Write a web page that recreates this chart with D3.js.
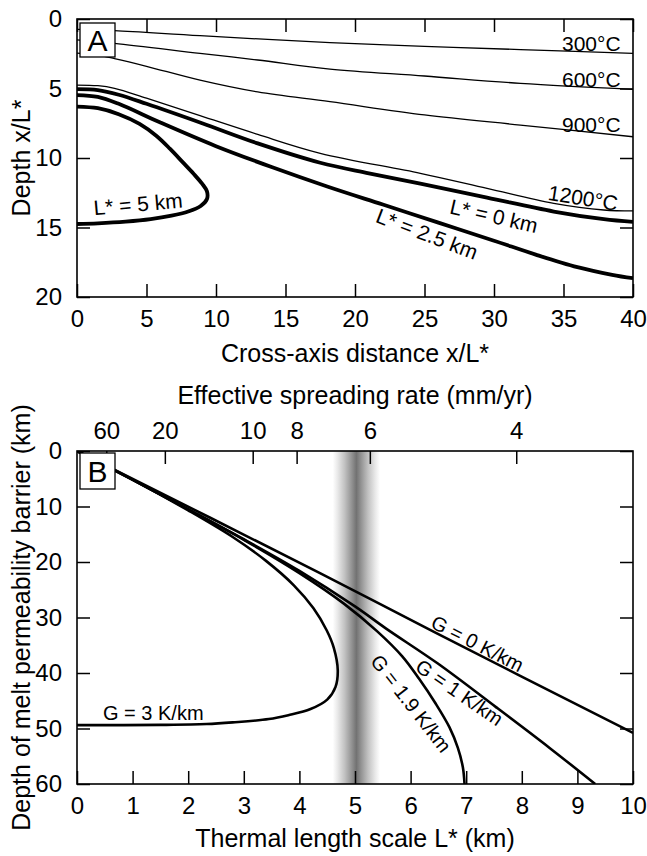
<!DOCTYPE html>
<html>
<head>
<meta charset="utf-8">
<script src="https://cdn.jsdelivr.net/npm/d3@7"></script>
<style>
body { margin: 0; background: #fff; }
svg text { font-family: "Liberation Sans", Arial, Helvetica, sans-serif; fill: #000; }
</style>
</head>
<body>
<svg id="chart" width="647" height="856"></svg>
<script>
// Panel A: [cross-axis distance x/L*, depth x/L*]
var iso300 = [[0, 0.75], [2.7, 0.84], [8.85, 1.2], [18.2, 1.7], [25, 1.97], [31.9, 2.2], [40, 2.47]];
var iso600 = [[0, 1.5], [2.7, 1.75], [8.85, 2.47], [13, 2.95], [18.2, 3.6], [25, 4.1], [31.9, 4.63], [40, 5.06]];
var iso900 = [[0, 2.45], [1.5, 2.6], [2.7, 2.85], [5, 3.4], [8.85, 4.4], [13, 5.25], [18.2, 5.95], [25, 6.9], [31.9, 7.63], [40, 8.47]];
var iso1200 = [[0, 4.75], [1.5, 4.8], [2.7, 4.99], [5, 5.7], [8.85, 6.95], [13, 8.3], [17.5, 9.66], [24.7, 11.1], [29.5, 12.18], [34.3, 13.26], [37.9, 13.74], [40, 13.81]];
var lstar0 = [[0, 5.05], [1.5, 5.12], [3, 5.45], [5, 6.1], [9, 7.5], [13, 8.95], [17.5, 10.34], [21, 11.1], [24.7, 11.85], [29.5, 12.85], [34.3, 13.85], [37.9, 14.4], [40, 14.6]];
var lstar25 = [[0, 5.47], [1.5, 5.6], [3, 6.1], [6, 7.45], [10, 9.15], [14, 10.65], [18, 12.05], [22, 13.35], [26, 14.65], [30, 15.95], [33, 16.95], [36, 17.85], [38.5, 18.4], [40, 18.65]];
var lstar5 = [[0, 6.3], [1.5, 6.42], [3, 6.85], [4.5, 7.55], [5.7, 8.4], [6.7, 9.35], [7.6, 10.3], [8.4, 11.15], [9.0, 11.85], [9.35, 12.4], [9.35, 12.95], [8.9, 13.45], [8.0, 13.85], [6.8, 14.15], [5.3, 14.4], [3.5, 14.58], [1.5, 14.7], [0, 14.75]];

// Panel B: [thermal length scale L* (km), depth of barrier (km)]
var g0 = [[0, 0], [4.37, 22.0], [6.42, 32.6], [10, 50.8]];
var g1 = [[0, 0], [1, 5.2], [2, 10.5], [3, 15.9], [4, 21.6], [5, 28.0], [5.56, 32.0], [6.49, 38.3], [7.53, 46.1], [8.5, 53.5], [9.32, 60]];
var g19 = [[0, 0], [1, 5.15], [2, 10.5], [3, 16.0], [4, 22.0], [4.8, 27.5], [5.4, 32.5], [5.85, 37.0], [6.15, 41.0], [6.45, 45.5], [6.7, 49.8], [6.85, 53.5], [6.94, 57], [6.97, 60]];
var g3 = [[0, 0], [1, 5.15], [2, 10.7], [2.8, 15.5], [3.4, 19.8], [3.9, 24.2], [4.25, 28.3], [4.49, 32.3], [4.62, 35.5], [4.69, 39.5], [4.65, 42.5], [4.5, 44.8], [4.2, 46.5], [3.8, 47.6], [3.45, 48.3], [2.8, 48.9], [2.33, 49.2], [1.5, 49.35], [0, 49.4]];

var spreadRates = [60, 20, 10, 8, 6, 4];     // top axis labels (mm/yr)
var rateToLstar = 31.6;
var bandRange = [4.6, 5.45];                   // shaded L* band

var svg = d3.select('#chart');

var xA = d3.scaleLinear().domain([0, 40]).range([77, 633]);
var yA = d3.scaleLinear().domain([0, 20]).range([19, 297]);
var xB = d3.scaleLinear().domain([0, 10]).range([77, 633]);
var yB = d3.scaleLinear().domain([0, 60]).range([451, 784]);

function styleAxis(g) {
    g.attr('font-size', 24).attr('font-family', null);
    g.select('.domain').remove();
    g.selectAll('line').attr('stroke', '#000').attr('stroke-width', 1.5);
}

// gradient for the band in panel B
var defs = svg.append('defs');
var grad = defs.append('linearGradient').attr('id', 'band').attr('x1', '0').attr('x2', '1').attr('y1', '0').attr('y2', '0');
[[0, '#ffffff'], [0.1, '#e9e9e9'], [0.25, '#c2c2c2'], [0.4, '#939393'], [0.5, '#727272'], [0.6, '#939393'], [0.75, '#c2c2c2'], [0.9, '#e9e9e9'], [1, '#ffffff']].forEach(function(s) {
    grad.append('stop').attr('offset', s[0]).attr('stop-color', s[1]);
});
defs.append('clipPath').attr('id', 'clipA').append('rect')
    .attr('x', 77).attr('y', 19).attr('width', 556).attr('height', 278);
defs.append('clipPath').attr('id', 'clipB').append('rect')
    .attr('x', 77).attr('y', 451).attr('width', 556).attr('height', 333);

// ---------- Panel A ----------
var lineA = d3.line().x(function(d) { return xA(d[0]); }).y(function(d) { return yA(d[1]); })
    .curve(d3.curveCatmullRom.alpha(0.5));
var curvesA = svg.append('g').attr('clip-path', 'url(#clipA)');
[iso300, iso600, iso900, iso1200].forEach(function(c) {
    curvesA.append('path').attr('d', lineA(c)).attr('fill', 'none').attr('stroke', '#000').attr('stroke-width', 1.3);
});
[lstar0, lstar25, lstar5].forEach(function(c) {
    curvesA.append('path').attr('d', lineA(c)).attr('fill', 'none').attr('stroke', '#000').attr('stroke-width', 3.8);
});

svg.append('g').attr('transform', 'translate(0,297)')
    .call(d3.axisBottom(xA).tickValues(d3.range(0, 41, 5)).tickSize(-13).tickSizeOuter(0).tickPadding(13)).call(styleAxis);
svg.append('g').attr('transform', 'translate(0,19)')
    .call(d3.axisTop(xA).tickValues(d3.range(0, 41, 5)).tickSize(-13).tickSizeOuter(0).tickFormat('')).call(styleAxis);
svg.append('g').attr('transform', 'translate(77,0)')
    .call(d3.axisLeft(yA).tickValues(d3.range(0, 21, 5)).tickSize(-13).tickSizeOuter(0).tickPadding(15)).call(styleAxis);
svg.append('g').attr('transform', 'translate(633,0)')
    .call(d3.axisRight(yA).tickValues(d3.range(0, 21, 5)).tickSize(-13).tickSizeOuter(0).tickFormat('')).call(styleAxis);
svg.append('rect').attr('x', 77).attr('y', 19).attr('width', 556).attr('height', 278)
    .attr('fill', 'none').attr('stroke', '#000').attr('stroke-width', 1.6);

// isotherm labels
[['300°C', 51], ['600°C', 87], ['900°C', 132]].forEach(function(l) {
    svg.append('text').attr('x', 562).attr('y', l[1]).attr('font-size', 21).text(l[0]);
});
function rotLabel(txt, cx, cy, ang, size) {
    svg.append('text').attr('transform', 'translate(' + cx + ',' + cy + ') rotate(' + ang + ')')
        .attr('text-anchor', 'middle').attr('dy', '0.35em').attr('font-size', size).text(txt);
}
rotLabel('1200°C', 583, 198, 9, 21);
rotLabel('L* = 0 km', 494, 216, 13, 21);
rotLabel('L* = 2.5 km', 427, 234, 21, 21);
rotLabel('L* = 5 km', 138, 204, -5, 21);

svg.append('rect').attr('x', 80).attr('y', 23).attr('width', 35).attr('height', 34)
    .attr('fill', '#fff').attr('stroke', '#000').attr('stroke-width', 1.3);
svg.append('text').attr('x', 97.5).attr('y', 50.5).attr('text-anchor', 'middle').attr('font-size', 30).text('A');

svg.append('text').attr('x', 355).attr('y', 362).attr('text-anchor', 'middle').attr('font-size', 25).text('Cross-axis distance x/L*');
svg.append('text').attr('transform', 'translate(29.5,158) rotate(-90)').attr('text-anchor', 'middle').attr('font-size', 25).text('Depth x/L*');

// ---------- Panel B ----------
svg.append('rect').attr('x', xB(bandRange[0])).attr('y', 451)
    .attr('width', xB(bandRange[1]) - xB(bandRange[0])).attr('height', 333).attr('fill', 'url(#band)');

var lineB = d3.line().x(function(d) { return xB(d[0]); }).y(function(d) { return yB(d[1]); })
    .curve(d3.curveCatmullRom.alpha(0.5));
var curvesB = svg.append('g').attr('clip-path', 'url(#clipB)');
[g0, g1, g19, g3].forEach(function(c) {
    curvesB.append('path').attr('d', lineB(c)).attr('fill', 'none').attr('stroke', '#000').attr('stroke-width', 2.6);
});

svg.append('g').attr('transform', 'translate(0,784)')
    .call(d3.axisBottom(xB).tickValues(d3.range(0, 11, 1)).tickSize(-13).tickSizeOuter(0).tickPadding(13)).call(styleAxis);
svg.append('g').attr('transform', 'translate(0,451)')
    .call(d3.axisTop(xB).tickValues(spreadRates.map(function(u) { return rateToLstar / u; }))
        .tickFormat(function(d, i) { return spreadRates[i]; })
        .tickSize(-13).tickSizeOuter(0).tickPadding(12)).call(styleAxis);
svg.append('g').attr('transform', 'translate(77,0)')
    .call(d3.axisLeft(yB).tickValues(d3.range(0, 61, 10)).tickSize(-13).tickSizeOuter(0).tickPadding(15)).call(styleAxis);
svg.append('g').attr('transform', 'translate(633,0)')
    .call(d3.axisRight(yB).tickValues(d3.range(0, 61, 10)).tickSize(-13).tickSizeOuter(0).tickFormat('')).call(styleAxis);
svg.append('rect').attr('x', 77).attr('y', 451).attr('width', 556).attr('height', 333)
    .attr('fill', 'none').attr('stroke', '#000').attr('stroke-width', 1.6);

svg.append('text').attr('x', 103).attr('y', 720).attr('font-size', 20).text('G = 3 K/km');
rotLabel('G = 0 K/km', 477.5, 643.5, 27, 20);
rotLabel('G = 1 K/km', 459.5, 692.5, 34.5, 20);
rotLabel('G = 1.9 K/km', 411, 703.5, 52, 20);

svg.append('rect').attr('x', 80).attr('y', 453).attr('width', 35).attr('height', 36)
    .attr('fill', '#fff').attr('stroke', '#000').attr('stroke-width', 1.3);
svg.append('text').attr('x', 97.5).attr('y', 482).attr('text-anchor', 'middle').attr('font-size', 30).text('B');

svg.append('text').attr('x', 355).attr('y', 404).attr('text-anchor', 'middle').attr('font-size', 25).text('Effective spreading rate (mm/yr)');
svg.append('text').attr('x', 355).attr('y', 847).attr('text-anchor', 'middle').attr('font-size', 25).text('Thermal length scale L* (km)');
svg.append('text').attr('transform', 'translate(29.5,617.5) rotate(-90)').attr('text-anchor', 'middle').attr('font-size', 25).text('Depth of melt permeability barrier (km)');
</script>
</body>
</html>
